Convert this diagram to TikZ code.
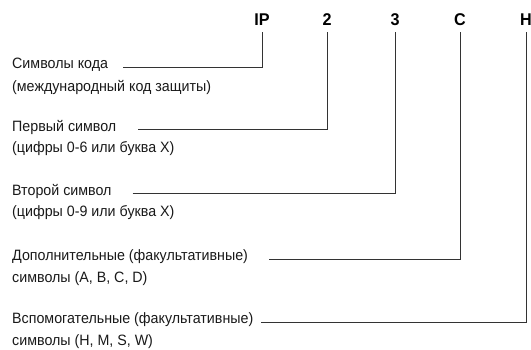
\documentclass[tikz,border=0pt]{standalone}
\usepackage{fontspec}
\setmainfont{Liberation Sans}
\newfontfamily\etroit[FakeStretch=0.95]{Liberation Sans}
\begin{document}
\begin{tikzpicture}[x=1pt,y=-1pt]
			% Styles
			\tikzstyle{trait}=[-,line width=0.8pt,black!80]
			\tikzstyle{entete}=[font=\fontsize{17}{17}\selectfont\etroit\bfseries,inner sep=0pt,outer sep=6pt,text depth=0pt]
			\tikzstyle{legende}=[font=\fontsize{15}{15}\selectfont\etroit,inner sep=0pt,anchor=west,black!90]
			% Dimensions
			\def\Gauche{12}
			\def\Interligne{22}
			\useasboundingbox (0,0) rectangle (531,349);
			% Entetes
			\node[entete] (IP) at (262,20) {IP};
			\node[entete] (Sa) at (327,20) {2};
			\node[entete] (Sb) at (395,20) {3};
			\node[entete] (Sc) at (460,20) {C};
			\node[entete] (Sd) at (526,20) {H};
			% Legendes
			\node[legende] (La) at (\Gauche,65) {Символы кода};
			\node[legende] (Lab) at (\Gauche,65+\Interligne) {(международный код защиты)};
			\node[legende] (Lb) at (\Gauche,127) {Первый символ};
			\node[legende] (Lbb) at (\Gauche,127+\Interligne) {(цифры 0-6 или буква X)};
			\node[legende] (Lc) at (\Gauche,191) {Второй символ};
			\node[legende] (Lcb) at (\Gauche,191+\Interligne) {(цифры 0-9 или буква X)};
			\node[legende] (Ld) at (\Gauche,257) {Дополнительные (факультативные)};
			\node[legende] (Ldb) at (\Gauche,257+\Interligne) {символы (A, B, C, D)};
			\node[legende] (Le) at (\Gauche,320) {Вспомогательные (факультативные)};
			\node[legende] (Leb) at (\Gauche,320+\Interligne) {символы (H, M, S, W)};
			% Traits
			\draw[trait] ([xshift=15pt,yshift=-2pt]La.east) -| (IP.south);
			\draw[trait] ([xshift=22pt,yshift=-2pt]Lb.east) -| (Sa.south);
			\draw[trait] ([xshift=21pt,yshift=-2pt]Lc.east) -| (Sb.south);
			\draw[trait] ([xshift=21pt,yshift=-2pt]Ld.east) -| (Sc.south);
			\draw[trait] ([xshift=8pt,yshift=-2pt]Le.east) -| (Sd.south);
		\end{tikzpicture}
\end{document}
